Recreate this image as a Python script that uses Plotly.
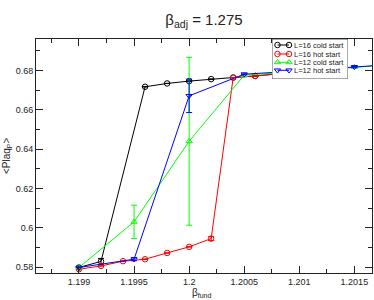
import plotly.graph_objects as go

# ---- data ----
x_l16_cold = [1.199, 1.1992, 1.1996, 1.1998, 1.2, 1.2002, 1.2004, 1.2006, 1.201]
y_l16_cold = [0.5798, 0.5829, 0.6717, 0.6734, 0.6746, 0.6756, 0.6764, 0.6772, 0.6793]
e_l16_cold = [0, 0.0015, 0, 0, 0, 0, 0, 0, 0]

x_l16_hot = [1.199, 1.1992, 1.1994, 1.1996, 1.1998, 1.2, 1.2002, 1.2004, 1.2006, 1.201]
y_l16_hot = [0.5789, 0.5806, 0.5830, 0.5840, 0.5872, 0.5903, 0.5945, 0.6764, 0.6772, 0.6793]
e_l16_hot = [0, 0, 0, 0, 0, 0, 0.0010, 0, 0, 0]

x_l12_cold = [1.199, 1.1995, 1.2, 1.2005, 1.201, 1.2015, 1.202]
y_l12_cold = [0.5798, 0.6030, 0.6440, 0.6776, 0.6795, 0.6817, 0.6836]
e_l12_cold = [0, 0.0085, 0.0427, 0, 0, 0, 0]

x_l12_hot = [1.199, 1.1995, 1.2, 1.2005, 1.201, 1.2015, 1.202]
y_l12_hot = [0.5798, 0.5840, 0.6671, 0.6781, 0.6798, 0.6818, 0.6837]
e_l12_hot = [0, 0.0008, 0.0085, 0, 0, 0, 0]

x_tickvals = [1.199, 1.1995, 1.2, 1.2005, 1.201, 1.2015]
x_ticktext = ["1.199", "1.1995", "1.2", "1.2005", "1.201", "1.2015"]
y_tickvals = [0.58, 0.60, 0.62, 0.64, 0.66, 0.68]
y_ticktext = ["0.58", "0.6", "0.62", "0.64", "0.66", "0.68"]

series_names = ["L=16 cold start", "L=16 hot start", "L=12 cold start", "L=12 hot start"]
series_colors = ["#000000", "#ff0000", "#00ff00", "#0000ff"]
series_symbols = ["circle-open", "circle-open", "triangle-up-open", "triangle-down-open"]

FONT = "Liberation Sans, Arial, sans-serif"

fig = go.Figure()
series = [
    (x_l16_cold, y_l16_cold, e_l16_cold),
    (x_l16_hot, y_l16_hot, e_l16_hot),
    (x_l12_cold, y_l12_cold, e_l12_cold),
    (x_l12_hot, y_l12_hot, e_l12_hot),
]
for (xs, ys, es), name, col, sym in zip(series, series_names, series_colors, series_symbols):
    fig.add_trace(go.Scatter(
        x=xs, y=ys, mode="lines+markers", name=name,
        line=dict(color=col, width=1),
        marker=dict(symbol=sym, size=5.5, color=col, line=dict(width=1, color=col)),
        error_y=dict(type="data", array=es, visible=True, color=col, thickness=1, width=3),
        showlegend=False, cliponaxis=True,
    ))

# ---- custom compact legend (separate invisible subplot) ----
fig.add_trace(go.Scatter(
    x=[0, 1, 1, 0, 0], y=[0, 0, 1, 1, 0], mode="lines", fill="toself",
    fillcolor="white", line=dict(color="#555555", width=1),
    xaxis="x2", yaxis="y2", showlegend=False, hoverinfo="skip",
))
legend_rows = [0.85, 0.625, 0.4175, 0.2175]
for name, col, sym, ry in zip(series_names, series_colors, series_symbols, legend_rows):
    fig.add_trace(go.Scatter(
        x=[0.072, 0.224], y=[ry, ry], mode="lines+markers",
        line=dict(color=col, width=1),
        marker=dict(symbol=sym, size=5.5, color=col, line=dict(width=1, color=col)),
        xaxis="x2", yaxis="y2", showlegend=False, hoverinfo="skip",
    ))
    fig.add_annotation(x=0.267, y=ry, xref="x2", yref="y2", text=name,
                       showarrow=False, xanchor="left", yanchor="middle",
                       font=dict(family=FONT, size=7.5, color="#222222"))

axis_common = dict(
    showline=True, linecolor="#222222", linewidth=1, mirror="ticks",
    ticks="inside", ticklen=7, tickcolor="#222222", tickwidth=1,
    showgrid=False, zeroline=False,
    tickfont=dict(family=FONT, size=9, color="#222222"),
)
fig.update_layout(
    width=374, height=300,
    margin=dict(l=36, r=2, t=39, b=27),
    paper_bgcolor="white", plot_bgcolor="white",
    showlegend=False,
    title=dict(text="β<sub>adj</sub> = 1.275", x=0.5, xref="paper",
               y=1 - 20 / 300, yref="container", xanchor="center", yanchor="middle",
               font=dict(family=FONT, size=15, color="#222222")),
    xaxis=dict(range=[1.19861, 1.20166], tickmode="array",
               tickvals=x_tickvals, ticktext=x_ticktext,
               minor=dict(ticks="inside", ticklen=4, dtick=0.00025, tick0=1.199,
                          tickcolor="#222222"),
               **axis_common),
    yaxis=dict(range=[0.577, 0.696], tickmode="array",
               tickvals=y_tickvals, ticktext=y_ticktext,
               minor=dict(ticks="inside", ticklen=4, dtick=0.01, tick0=0.58,
                          tickcolor="#222222"),
               **axis_common),
    xaxis2=dict(domain=[0.7024, 0.9286], range=[0, 1], visible=False, anchor="y2",
                fixedrange=True),
    yaxis2=dict(domain=[0.829, 1.0], range=[0, 1], visible=False, anchor="x2",
                fixedrange=True),
)
fig.add_annotation(text="β<sub>fund</sub>", xref="paper", yref="paper",
                   x=0.494, y=-0.0855, showarrow=False, xanchor="center", yanchor="middle",
                   font=dict(family=FONT, size=10, color="#222222"))
fig.add_annotation(text="&lt;Plaq<sub>P</sub>&gt;", xref="paper", yref="paper",
                   x=-0.0863, y=0.5, showarrow=False, textangle=-90,
                   xanchor="center", yanchor="middle",
                   font=dict(family=FONT, size=10, color="#222222"))

fig.write_html("out.html", config={"displayModeBar": False},
               post_script="document.body.style.margin='0';document.body.style.padding='0';")
